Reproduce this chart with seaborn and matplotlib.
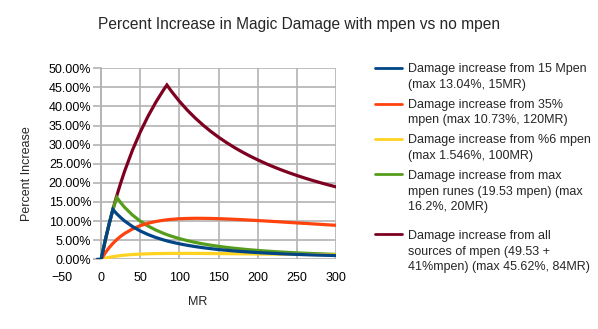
import numpy as np
import pandas as pd
import matplotlib
matplotlib.use("Agg")
import matplotlib.pyplot as plt
import seaborn as sns
from matplotlib.ticker import PercentFormatter
from matplotlib.legend_handler import HandlerLine2D

# ---- data (percent increase) ----
mr = [-5, 0, 5, 10, 15, 20, 25, 30, 40, 50, 60, 70, 80, 84, 90, 100, 110, 120, 130,
      140, 150, 160, 170, 180, 190, 200, 210, 220, 230, 240, 250, 260, 270, 280, 290, 300]

flat15 = [0, 0, 4.76, 9.09, 13.04, 11.90, 10.91, 10.03, 8.57, 7.41, 6.47, 5.69, 5.05, 4.82,
          4.51, 4.05, 3.66, 3.33, 3.03, 2.78, 2.55, 2.36, 2.18, 2.02, 1.88, 1.75, 1.64, 1.54,
          1.44, 1.36, 1.28, 1.21, 1.14, 1.08, 1.03, 0.97]
pct35 = [None, 0, 1.61, 2.99, 4.16, 5.16, 6.02, 6.76, 7.94, 8.81, 9.44, 9.91, 10.23, 10.34,
         10.46, 10.61, 10.69, 10.73, 10.72, 10.69, 10.63, 10.56, 10.47, 10.37, 10.26, 10.14,
         10.03, 9.90, 9.78, 9.65, 9.52, 9.40, 9.27, 9.15, 9.02, 8.90]
pct6 = [None, 0, 0.27, 0.50, 0.69, 0.84, 0.97, 1.08, 1.25, 1.36, 1.44, 1.49, 1.52, 1.53,
        1.54, 1.546, 1.545, 1.54, 1.53, 1.51, 1.49, 1.48, 1.45, 1.43, 1.41, 1.39, 1.37,
        1.35, 1.32, 1.30, 1.28, 1.26, 1.24, 1.22, 1.20, 1.18]
runes = [None, 0, 4.76, 9.09, 13.04, 16.20, 14.81, 13.60, 11.58, 9.98, 8.69, 7.64, 6.76,
         6.45, 6.03, 5.41, 4.88, 4.43, 4.03, 3.69, 3.39, 3.12, 2.89, 2.68, 2.49, 2.32, 2.17,
         2.03, 1.91, 1.79, 1.69, 1.59, 1.51, 1.43, 1.35, 1.28]
allpen = [None, 0, 4.76, 9.09, 13.04, 16.67, 20.00, 23.08, 28.57, 33.33, 37.50, 41.18,
          44.44, 45.62, 43.92, 41.35, 39.06, 37.01, 35.16, 33.48, 31.96, 30.57, 29.29, 28.11,
          27.03, 26.03, 25.09, 24.22, 23.41, 22.65, 21.94, 21.27, 20.64, 20.05, 19.49, 18.96]

names = [
    "Damage increase from 15 Mpen\n(max 13.04%, 15MR)",
    "Damage increase from 35%\nmpen (max 10.73%, 120MR)",
    "Damage increase from %6 mpen\n(max 1.546%, 100MR)",
    "Damage increase from max\nmpen runes (19.53 mpen) (max\n16.2%, 20MR)",
    "Damage increase from all\nsources of mpen (49.53 +\n41%mpen) (max 45.62%, 84MR)",
]
colors = ["#004586", "#ff420e", "#ffd320", "#579d1c", "#7e0021"]

x_ticks = [-50, 0, 50, 100, 150, 200, 250, 300]
y_ticks = [0, 5, 10, 15, 20, 25, 30, 35, 40, 45, 50]

wide = pd.DataFrame({"MR": mr, names[0]: flat15, names[1]: pct35, names[2]: pct6,
                     names[3]: runes, names[4]: allpen})
long = wide.melt(id_vars="MR", var_name="series", value_name="pct").dropna()
long["pct"] = long["pct"].astype(float)

# ---- style ----
sns.set_theme(style="white")
plt.rcParams["font.family"] = ["Liberation Sans", "DejaVu Sans"]
grid_c = "#b3b3b3"

fig = plt.figure(figsize=(5.98, 3.29), dpi=100)
ax = fig.add_axes([0.1037, 0.2119, 0.4582, 0.5805])

sns.lineplot(data=long, x="MR", y="pct", hue="series", hue_order=names,
             palette=colors, linewidth=2.3, estimator=None, sort=True,
             legend=False, ax=ax)
lines = list(ax.lines)
for i, ln in enumerate(lines):
    ln.set_zorder(10 - i)
    ln.set_solid_joinstyle("miter")

ax.set_xlim(-50, 300)
ax.set_ylim(0, 50)
ax.set_xticks(x_ticks)
ax.set_yticks(y_ticks)
ax.yaxis.set_major_formatter(PercentFormatter(xmax=100, decimals=2))

# grid only over the data region (0..300)
ax.hlines(y_ticks, 0, 300, colors=grid_c, linewidth=1.2, zorder=1)
ax.vlines([t for t in x_ticks if t >= 0], 0, 50, colors=grid_c, linewidth=1.2, zorder=1)

for s in ["top", "right", "bottom"]:
    ax.spines[s].set_visible(False)
ax.spines["left"].set_position(("data", 0))
ax.spines["left"].set_color(grid_c)
ax.spines["left"].set_linewidth(1.2)

ax.tick_params(axis="y", length=5.5, width=1.2, color=grid_c, pad=1.5,
               labelsize=9, labelcolor="black", left=True)
ax.tick_params(axis="x", length=0, pad=9, labelsize=9, labelcolor="black")

ax.set_xlabel("MR", fontsize=9, va="center")
ax.set_ylabel("Percent Increase", fontsize=9, va="center")
ax.xaxis.set_label_coords(0.496, -0.226)
ax.yaxis.set_label_coords(-0.129, 0.447)

fig.suptitle("Percent Increase in Magic Damage with mpen vs no mpen",
             x=0.5, y=0.925, va="center", fontsize=11.2)

# legend: line sample aligned with first text row
LS = 1.42
FS = 9


class TopLine(HandlerLine2D):
    def __init__(self, nlines, **kw):
        super().__init__(**kw)
        self.nlines = nlines

    def create_artists(self, legend, orig_handle, xdescent, ydescent, width,
                       height, fontsize, trans):
        arts = super().create_artists(legend, orig_handle, xdescent, ydescent,
                                      width, height, fontsize, trans)
        off = (self.nlines - 1) * fontsize * LS / 2
        for a in arts:
            a.set_ydata(np.asarray(a.get_ydata(), dtype=float) + off)
        return arts


hmap = {ln: TopLine(n.count("\n") + 1) for ln, n in zip(lines, names)}
common = dict(loc="upper left", frameon=False, borderpad=0, borderaxespad=0,
              handlelength=2.2, handletextpad=0.45, labelspacing=0.62,
              fontsize=FS, handler_map=hmap)
leg1 = fig.legend(lines[:4], names[:4], bbox_to_anchor=(0.627, 0.808), **common)
leg2 = fig.legend(lines[4:], names[4:], bbox_to_anchor=(0.627, 0.3012), **common)
for leg in (leg1, leg2):
    for t in leg.get_texts():
        t.set_linespacing(LS)
    for ln in leg.get_lines():
        ln.set_linewidth(2.0)

fig.savefig("out.png", dpi=100, facecolor="white")
